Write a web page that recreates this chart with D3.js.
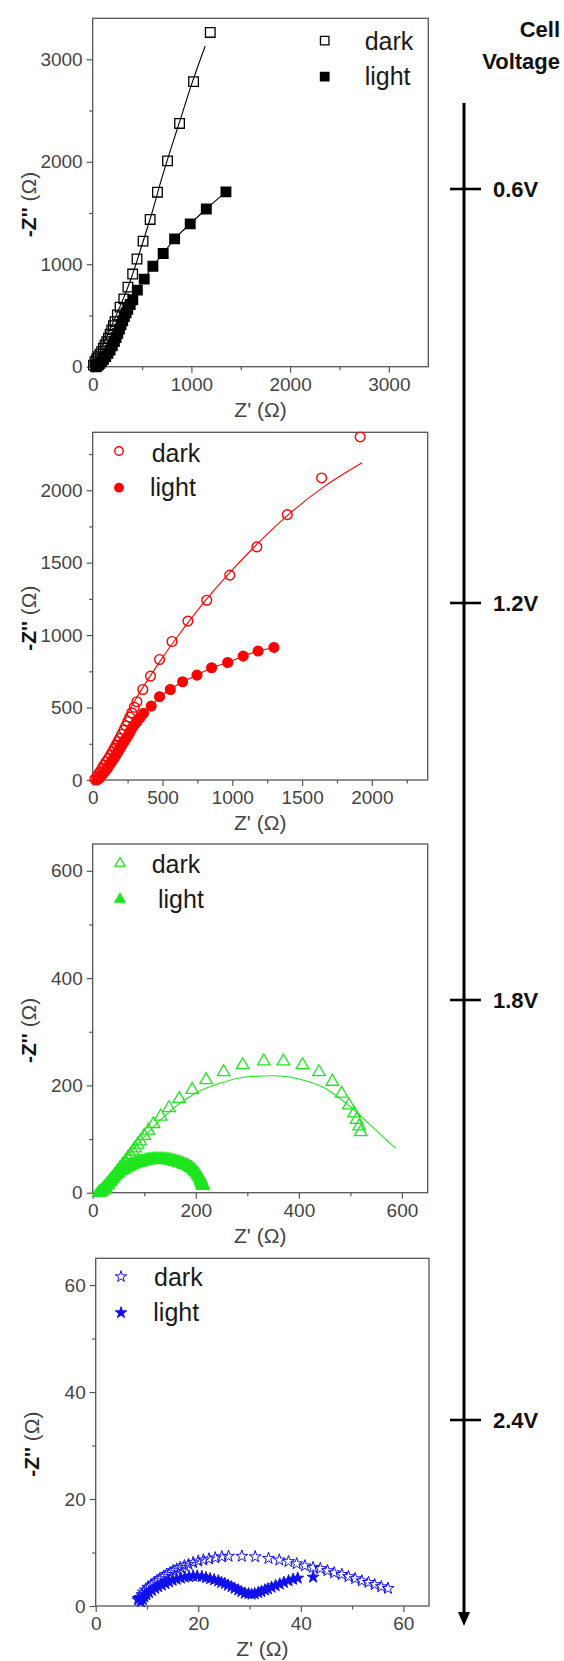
<!DOCTYPE html>
<html><head><meta charset="utf-8">
<script src="https://cdn.jsdelivr.net/npm/d3@7"></script>
<style>
body{margin:0;background:#fff}
svg{display:block}
text{font-family:"Liberation Sans",Arial,sans-serif}
</style>
</head><body>
<svg id="c" width="564" height="1661"></svg>
<script>
// ---------- data ----------
// Panel 1 (0.6 V) : black squares
const p1Dark = [[8,15],[23,49],[40,75],[57,98],[74,122],[91,147],[108,180],[125,212],[142,245],[159,278],[176,318],[193,359],[210,400],[226,440],[250,506],[277,581],[315,662],[357,777],[405,904],[449,1051],[510,1226],[582,1437],[656,1703],[758,2009],[880,2374],[1022,2782],[1191,3262]];
const p1DarkFit = [[0,0],[100,200],[200,420],[300,640],[400,890],[500,1190],[600,1500],[700,1840],[800,2150],[900,2450],[1000,2750],[1140,3130]];
const p1Light = [[30,0],[40,5],[57,17],[74,32],[91,49],[110,72],[132,98],[154,130],[176,163],[198,204],[219,245],[237,285],[254,326],[271,367],[287,408],[304,448],[321,489],[338,525],[355,561],[380,607],[406,653],[452,747],[522,855],[610,980],[714,1105],[830,1247],[988,1394],[1151,1539],[1350,1706]];

// Panel 2 (1.2 V) : red circles
const p2Dark = [[15,5],[29,23],[41,40],[53,57],[67,80],[81,103],[97,126],[113,149],[128,172],[144,195],[158,218],[172,241],[184,264],[196,287],[210,316],[225,345],[238,374],[251,402],[265,433],[280,464],[298,502],[316,540],[359,625],[414,717],[479,832],[568,956],[682,1097],[817,1241],[982,1414],[1176,1609],[1394,1832],[1640,2085],[1916,2368]];
const p2DarkFit = [[0,0],[100,190],[200,370],[300,545],[400,700],[500,845],[600,980],[800,1230],[1000,1450],[1200,1650],[1400,1830],[1650,2020],[1930,2190]];
const p2Light = [[30,0],[48,11],[62,28],[77,46],[91,63],[105,80],[120,103],[136,126],[152,149],[168,172],[182,195],[196,218],[210,241],[225,264],[240,287],[256,310],[268,333],[280,356],[298,379],[316,402],[340,431],[364,460],[419,510],[479,575],[556,625],[644,678],[747,724],[852,775],[967,811],[1078,855],[1185,890],[1298,915]];

// Panel 3 (1.8 V) : green triangles
const p3Dark = [[18,3],[24,8],[29,15],[34,21],[38,27],[43,33],[48,40],[53,46],[58,52],[63,58],[68,65],[73,71],[78,77],[82,83],[87,90],[92,96],[100,106],[108,116],[118,128],[132,142],[148,158],[168,175],[193,192],[220,210],[254,225],[291,238],[332,245],[370,245],[407,238],[439,225],[465,207],[483,185],[497,163],[507,148],[512,136],[517,124],[520,113]];
const p3DarkFit = [[0,0],[40,40],[80,82],[120,125],[160,160],[200,186],[250,205],[300,216],[350,218],[400,212],[450,195],[500,160],[540,125],[587,83]];
const p3Light = [[12,0],[15,1],[18,3],[20,6],[22,8],[25,11],[27,14],[30,17],[32,20],[35,23],[38,26],[41,29],[44,32],[47,35],[50,37],[54,40],[57,42],[61,44],[64,46],[68,48],[72,50],[76,52],[80,53],[84,55],[88,56],[92,57],[96,58],[100,59],[104,60],[108,61],[112,61],[116,62],[120,62],[124,62],[128,62],[132,62],[136,62],[140,62],[144,61],[148,61],[152,60],[156,59],[160,58],[164,57],[168,56],[172,55],[176,53],[180,52],[184,50],[188,48],[191,46],[194,44],[197,41],[200,38],[203,35],[205,32],[207,29],[209,26],[210,23],[211,20],[212,18],[213,15],[214,13]];

// Panel 4 (2.4 V) : blue stars
const p4Dark = [[8.3,1.1],[8.6,1.6],[9.0,2.1],[9.3,2.6],[9.7,3.0],[10.2,3.5],[10.8,3.9],[11.3,4.3],[11.9,4.7],[12.5,5.1],[13.2,5.5],[13.8,5.9],[14.5,6.2],[15.1,6.6],[15.8,6.9],[16.5,7.2],[17.3,7.5],[18.1,7.8],[19.0,8.1],[20.0,8.4],[21.0,8.6],[22.1,8.8],[23.3,9.0],[24.6,9.2],[25.9,9.3],[28.5,9.3],[31.1,9.2],[33.7,8.9],[35.8,8.6],[37.6,8.3],[39.2,7.9],[40.8,7.5],[42.4,7.2],[43.8,7.0],[45.2,6.6],[46.5,6.2],[48.0,5.9],[49.3,5.5],[50.6,5.1],[51.9,4.7],[53.2,4.4],[54.4,4.0],[55.7,3.6],[57.0,3.3]];
const p4Light = [[8.3,1.4],[8.8,0.8],[9.2,1.2],[9.5,1.7],[9.9,2.1],[10.4,2.5],[11.0,2.9],[11.6,3.3],[12.2,3.6],[12.9,3.9],[13.6,4.2],[14.3,4.5],[15.0,4.8],[15.8,5.0],[16.6,5.2],[17.4,5.4],[18.2,5.5],[19.0,5.6],[19.8,5.6],[20.7,5.5],[21.5,5.3],[22.3,5.1],[23.1,4.9],[23.9,4.7],[24.5,4.4],[25.2,4.2],[25.8,3.9],[26.5,3.6],[27.1,3.3],[27.8,3.0],[28.4,2.7],[29.1,2.4],[29.8,2.3],[30.4,2.2],[31.0,2.3],[31.7,2.5],[32.3,2.7],[33.0,3.0],[33.6,3.2],[34.3,3.5],[35.1,3.8],[35.9,4.1],[36.7,4.4],[37.6,4.7],[38.5,5.0],[39.4,5.2],[42.4,5.4]];

// axis ticks
const p1Major = [0,1000,2000,3000], p1Minor = [500,1500,2500];
const p2Major = [0,500,1000,1500,2000], p2Minor = [250,750,1250,1750,2250];
const p3Major = [0,200,400,600], p3Minor = [100,300,500];
const p4Major = [0,20,40,60], p4Minor = [10,30,50];

// voltage axis
const voltValues = [0.6,1.2,1.8,2.4];
const voltLabels = ["0.6V","1.2V","1.8V","2.4V"];
const seriesNames = ["dark","light"];

// ---------- drawing ----------
const svg = d3.select("#c");
const FONT = '"Liberation Sans",Arial,sans-serif';

function drawPanel(p){
  const x = d3.scaleLinear().domain([0,p.max]).range([p.l,p.r]);
  const y = d3.scaleLinear().domain([0,p.max]).range([p.b,p.t]);
  const g = svg.append("g");

  const styleAxis = sel => {
    sel.attr("font-family",FONT).attr("font-size",19);
    sel.select(".domain").remove();
    sel.selectAll("line").attr("stroke","#555").attr("stroke-width",1.2);
    sel.selectAll("text").attr("fill","#444");
  };
  g.append("g").attr("transform",`translate(0,${p.b})`)
    .call(d3.axisBottom(x).tickValues(p.major).tickSize(6).tickPadding(4.5).tickFormat(d3.format("d")))
    .call(styleAxis);
  g.append("g").attr("transform",`translate(0,${p.b})`)
    .call(d3.axisBottom(x).tickValues(p.minor).tickSize(3.5).tickFormat(""))
    .call(styleAxis);
  g.append("g").attr("transform",`translate(${p.l},0)`)
    .call(d3.axisLeft(y).tickValues(p.major).tickSize(6).tickPadding(4).tickFormat(d3.format("d")))
    .call(styleAxis);
  g.append("g").attr("transform",`translate(${p.l},0)`)
    .call(d3.axisLeft(y).tickValues(p.minor).tickSize(3.5).tickFormat(""))
    .call(styleAxis);

  g.append("rect").attr("x",p.l).attr("y",p.t).attr("width",p.r-p.l).attr("height",p.b-p.t)
    .attr("fill","none").attr("stroke","#555").attr("stroke-width",1.3);

  g.append("text").attr("x",(p.l+p.r)/2).attr("y",p.b+50).attr("text-anchor","middle")
    .attr("font-size",21).attr("fill","#444").text("Z' (Ω)");
  const yt = g.append("text").attr("transform",`translate(${p.l-57},${(p.t+p.b)/2+12}) rotate(-90)`)
    .attr("text-anchor","middle").attr("font-size",21);
  yt.append("tspan").attr("font-weight","bold").attr("fill","#111").text("-Z''");
  yt.append("tspan").attr("fill","#444").text(" (Ω)");

  const line = d3.line().x(d=>x(d[0])).y(d=>y(d[1])).curve(d3.curveMonotoneX);
  p.lines.forEach(ld=>{
    g.append("path").datum(ld).attr("d",line).attr("fill","none")
      .attr("stroke",p.color).attr("stroke-width",1.1);
  });

  p.series.forEach((s,i)=>{
    const filled = i===1;
    g.append("g").selectAll("path").data(s).join("path")
      .attr("transform",d=>`translate(${x(d[0])},${y(d[1])})`)
      .attr("d",d3.symbol().type(p.symbol).size(p.size)())
      .attr("fill",filled?p.color:"none")
      .attr("stroke",p.color).attr("stroke-width",p.sw);
  });

  seriesNames.forEach((name,i)=>{
    const filled = i===1;
    const my = p.t + p.leg.my[i];
    g.append("path").attr("transform",`translate(${p.l+p.leg.mx},${my})`)
      .attr("d",d3.symbol().type(p.symbol).size(p.legSize)())
      .attr("fill",filled?p.color:"none").attr("stroke",p.color).attr("stroke-width",p.sw);
    g.append("text").attr("x",p.l+p.leg.tx[i]).attr("y",p.t+p.leg.ty[i])
      .attr("font-size",25).attr("fill","#1a1a1a").text(name);
  });
}

drawPanel({l:92.7,r:428.3,t:18.3,b:366.7,max:3400,major:p1Major,minor:p1Minor,
  color:"#000",symbol:d3.symbolSquare,size:92,legSize:72,sw:1.3,
  series:[p1Dark,p1Light],lines:[p1DarkFit,p1Light],
  leg:{mx:232,my:[22.4,58.4],tx:[272,272],ty:[31.7,66.7]}});
drawPanel({l:92.7,r:427.7,t:432.3,b:780,max:2400,major:p2Major,minor:p2Minor,
  color:"#ff0000",symbol:d3.symbolCircle,size:74,legSize:56,sw:1.4,
  series:[p2Dark,p2Light],lines:[p2DarkFit,p2Light],
  leg:{mx:26.3,my:[18.7,55.4],tx:[59,57.3],ty:[29.4,63.7]}});
drawPanel({l:92.7,r:427.7,t:844,b:1192.7,max:650,major:p3Major,minor:p3Minor,
  color:"#1ee61e",symbol:d3.symbolTriangle,size:68,legSize:44,sw:1.3,
  series:[p3Dark,p3Light],lines:[p3DarkFit,p3Light],
  leg:{mx:27.3,my:[19.3,55.3],tx:[59,65.3],ty:[29.3,64.3]}});
drawPanel({l:95.7,r:429,t:1258.3,b:1606,max:65,major:p4Major,minor:p4Minor,
  color:"#1010ee",symbol:d3.symbolStar,size:44,legSize:40,sw:1,
  series:[p4Dark,p4Light],lines:[],
  leg:{mx:25.3,my:[18.4,54.4],tx:[58.3,57.6],ty:[27.7,62.7]}});

// ---------- cell voltage arrow ----------
const vy = d3.scaleLinear().domain(voltValues).range([189,603,1000,1420]);
const ax = 464;
const va = svg.append("g");
va.append("line").attr("x1",ax).attr("x2",ax).attr("y1",103).attr("y2",1614)
  .attr("stroke","#000").attr("stroke-width",3);
va.append("path").attr("d",`M${ax-6},1612 L${ax+6},1612 L${ax},1626 Z`).attr("fill","#000");
va.selectAll("line.t").data(voltValues).join("line").attr("class","t")
  .attr("x1",ax-14).attr("x2",ax+17).attr("y1",d=>vy(d)).attr("y2",d=>vy(d))
  .attr("stroke","#000").attr("stroke-width",2.6);
va.selectAll("text.v").data(voltValues).join("text").attr("class","v")
  .attr("x",ax+29).attr("y",d=>vy(d)).attr("dy","0.36em")
  .attr("font-size",22).attr("font-weight","bold").attr("fill","#111")
  .text((d,i)=>voltLabels[i]);
va.append("text").attr("x",560).attr("y",37).attr("text-anchor","end")
  .attr("font-size",22).attr("font-weight","bold").attr("fill","#111").text("Cell");
va.append("text").attr("x",560).attr("y",69).attr("text-anchor","end")
  .attr("font-size",22).attr("font-weight","bold").attr("fill","#111").text("Voltage");
</script>
</body></html>
